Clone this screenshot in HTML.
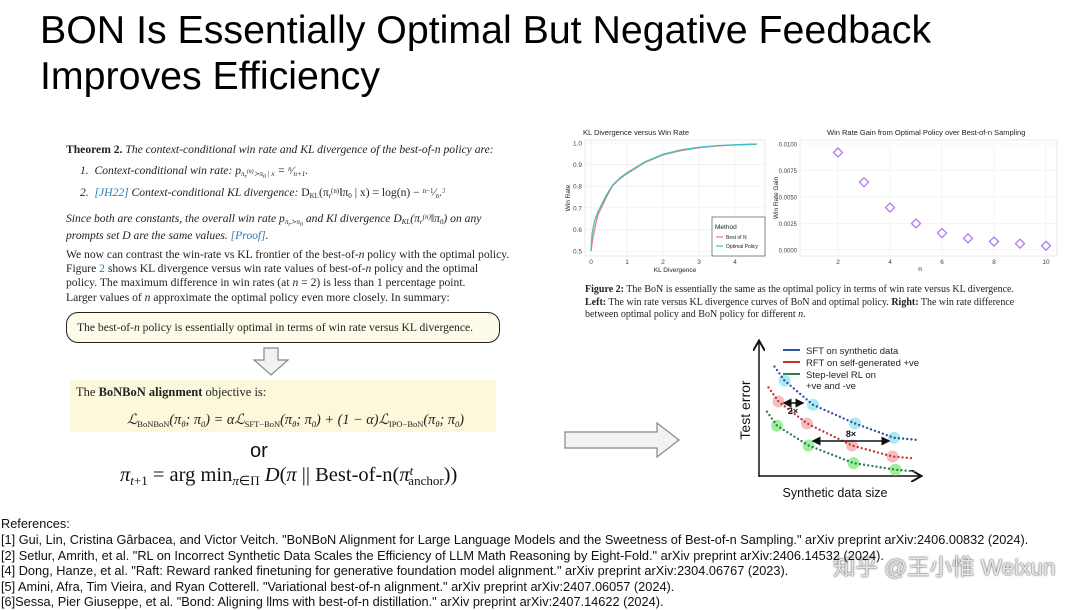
<!DOCTYPE html>
<html><head><meta charset="utf-8">
<style>
body{margin:0;width:1080px;height:610px;background:#fff;position:relative;overflow:hidden;font-family:"Liberation Sans",sans-serif;}
.a{position:absolute;white-space:nowrap;}
.s{font-family:"Liberation Serif",serif;color:#222;}
.i{font-style:italic;}
.ref{font-size:12.75px;color:#111;left:1px;}
.lk{color:#2a7ab0;}
sub,sup{vertical-align:baseline;position:relative;line-height:0;}
sub{top:0.3em;} sup{top:-0.45em;}
</style></head><body>
<div class="a" style="left:40px;top:7px;font-size:39.3px;line-height:46px;color:#000;">BON Is Essentially Optimal But Negative Feedback<br>Improves Efficiency</div>

<div>
<div class="a s" style="left:66px;top:143px;font-size:11.6px;"><b>Theorem 2.</b> <span class="i">The context-conditional win rate and KL divergence of the best-of-n policy are:</span></div>
<div class="a s i" style="left:80px;top:164px;font-size:11.6px;">1.&nbsp; Context-conditional win rate: p<sub style="font-size:7px">π<sub>r</sub><sup>(n)</sup>≻π<sub>0</sub> | x</sub> = <sup style="font-size:7px">n</sup>⁄<sub style="font-size:7px">n+1</sub>.</div>
<div class="a s i" style="left:80px;top:186px;font-size:11.6px;">2.&nbsp; <span class="lk">[JH22]</span> Context-conditional KL divergence: <span style="font-style:normal">D<sub style="font-size:7px">KL</sub>(π<sub style="font-size:7px">r</sub><sup style="font-size:7px">(n)</sup>‖π<sub style="font-size:7px">0</sub> | x) = log(n) − <sup style="font-size:7px">n−1</sup>⁄<sub style="font-size:7px">n</sub>.</span><sup class="lk" style="font-size:7px">3</sup></div>
<div class="a s i" style="left:66px;top:210px;font-size:11.6px;line-height:17px;">Since both are constants, the overall win rate p<sub style="font-size:7px">π<sub>r</sub>≻π<sub>0</sub></sub> and Kl divergence D<sub style="font-size:7px">KL</sub>(π<sub style="font-size:7px">r</sub><sup style="font-size:7px">(n)</sup>‖π<sub style="font-size:7px">0</sub>) on any<br>prompts set D are the same values. <span class="lk">[Proof]</span>.</div>
<div class="a s" style="left:66px;top:248px;font-size:11.6px;line-height:14.2px;">We now can contrast the win-rate vs KL frontier of the best-of-<i>n</i> policy with the optimal policy.<br>Figure <span class="lk">2</span> shows KL divergence versus win rate values of best-of-<i>n</i> policy and the optimal<br>policy. The maximum difference in win rates (at <i>n</i> = 2) is less than 1 percentage point.<br>Larger values of <i>n</i> approximate the optimal policy even more closely. In summary:</div>
<div class="a s" style="left:66px;top:312px;width:432px;height:29px;border:1.5px solid #222;border-radius:12px;background:#fffbea;font-size:11.6px;line-height:29px;text-indent:10px;">The best-of-<i>n</i> policy is essentially optimal in terms of win rate versus KL divergence.</div>
</div>

<svg class="a" style="left:250px;top:346px" width="44" height="32"><path d="M14 2H28V14H38L21 29L4 14H14Z" fill="#f2f2f2" stroke="#888" stroke-width="1.2"/></svg>

<div class="a" style="left:70px;top:380px;width:426px;height:52px;background:#fcf8dc;"></div>
<div class="a s" style="left:76px;top:385px;font-size:12.5px;">The <b>BoNBoN alignment</b> objective is:</div>
<div class="a s i" style="left:127px;top:412px;font-size:14.3px;">ℒ<sub style="font-size:8.5px;font-style:normal">BoNBoN</sub>(π<sub style="font-size:8.5px">θ</sub>; π<sub style="font-size:8.5px">0</sub>) = αℒ<sub style="font-size:8.5px;font-style:normal">SFT−BoN</sub>(π<sub style="font-size:8.5px">θ</sub>; π<sub style="font-size:8.5px">0</sub>) + (1 − α)ℒ<sub style="font-size:8.5px;font-style:normal">IPO−BoN</sub>(π<sub style="font-size:8.5px">θ</sub>; π<sub style="font-size:8.5px">0</sub>)</div>
<div class="a" style="left:250px;top:440px;font-size:20px;color:#111;">or</div>
<div class="a s" style="left:120px;top:464px;font-size:20.5px;color:#111;"><i>π</i><sub style="font-size:13px"><i>t</i>+1</sub> = arg min<sub style="font-size:13px"><i>π</i>∈Π</sub> <i>D</i>(<i>π</i> || Best-of-n(<i>π</i><sup style="font-size:13px"><i>t</i></sup><sub style="font-size:13px;margin-left:-5px">anchor</sub>))</div>

<svg class="a" style="left:562px;top:420px" width="122" height="40"><path d="M3 12H95V3L117 20L95 37V28H3Z" fill="#f2f2f2" stroke="#888" stroke-width="1.2"/></svg>

<svg id="c1" class="a" style="left:560px;top:120px" width="215" height="160"></svg>
<svg id="c2" class="a" style="left:770px;top:120px" width="300" height="160"></svg>

<div class="a s" style="left:585px;top:284px;font-size:10px;line-height:12.7px;color:#222;"><b>Figure 2:</b> The BoN is essentially the same as the optimal policy in terms of win rate versus KL divergence.<br><b>Left:</b> The win rate versus KL divergence curves of BoN and optimal policy. <b>Right:</b> The win rate difference<br>between optimal policy and BoN policy for different <i>n</i>.</div>

<svg id="c3" class="a" style="left:700px;top:330px" width="240" height="175">
<defs><marker id="ah" markerWidth="8" markerHeight="8" refX="6" refY="4" orient="auto"><path d="M0 0L7 4L0 8" fill="none" stroke="#111" stroke-width="1.3"/></marker>
<marker id="ab" markerWidth="6" markerHeight="6" refX="5" refY="3" orient="auto"><path d="M0 0L6 3L0 6Z" fill="#111"/></marker>
<marker id="ab2" markerWidth="6" markerHeight="6" refX="1" refY="3" orient="auto"><path d="M6 0L0 3L6 6Z" fill="#111"/></marker></defs>
<line x1="59" y1="147" x2="59" y2="12" stroke="#111" stroke-width="1.5" marker-end="url(#ah)"/>
<line x1="59" y1="146" x2="220" y2="146" stroke="#111" stroke-width="1.5" marker-end="url(#ah)"/>
<text x="50" y="80" transform="rotate(-90 50 80)" text-anchor="middle" font-size="14" fill="#111">Test error</text>
<text x="135" y="167" text-anchor="middle" font-size="12.5" fill="#111">Synthetic data size</text>
<line x1="83" y1="20" x2="100" y2="20" stroke="#3050a0" stroke-width="2"/><text x="106" y="24" font-size="9.5" fill="#222">SFT on synthetic data</text>
<line x1="83" y1="32" x2="100" y2="32" stroke="#d03030" stroke-width="2"/><text x="106" y="36" font-size="9.5" fill="#222">RFT on self-generated +ve</text>
<line x1="83" y1="44" x2="100" y2="44" stroke="#2a8050" stroke-width="2"/><text x="106" y="48" font-size="9.5" fill="#222">Step-level RL on</text><text x="106" y="59" font-size="9.5" fill="#222">+ve and -ve</text>
</svg>

<div class="a" style="left:833px;top:550px;font-size:22.5px;color:rgba(255,255,255,0.85);text-shadow:0 0 2px #666,0 0 1px #444;font-family:'Liberation Sans','Noto Sans CJK SC',sans-serif;">知乎 @王小惟 Weixun</div>

<div>
<div class="a ref" style="top:516px;">References:</div>
<div class="a ref" style="top:532px;">[1] Gui, Lin, Cristina Gârbacea, and Victor Veitch. "BoNBoN Alignment for Large Language Models and the Sweetness of Best-of-n Sampling." arXiv preprint arXiv:2406.00832 (2024).</div>
<div class="a ref" style="top:548px;">[2] Setlur, Amrith, et al. "RL on Incorrect Synthetic Data Scales the Efficiency of LLM Math Reasoning by Eight-Fold." arXiv preprint arXiv:2406.14532 (2024).</div>
<div class="a ref" style="top:563px;">[4] Dong, Hanze, et al. "Raft: Reward ranked finetuning for generative foundation model alignment." arXiv preprint arXiv:2304.06767 (2023).</div>
<div class="a ref" style="top:579px;">[5] Amini, Afra, Tim Vieira, and Ryan Cotterell. "Variational best-of-n alignment." arXiv preprint arXiv:2407.06057 (2024).</div>
<div class="a ref" style="top:594px;">[6]Sessa, Pier Giuseppe, et al. "Bond: Aligning llms with best-of-n distillation." arXiv preprint arXiv:2407.14622 (2024).</div>
</div>

<script>
const klBon=[0,0.05,0.19,0.43,0.59,0.79,0.99,1.5,2.0,2.5,3.0,3.5,4.0,4.6];
const winBon=[0.5,0.56,0.667,0.75,0.8,0.833,0.857,0.91,0.945,0.965,0.978,0.986,0.991,0.994];
const klOpt=[0,0.03,0.1,0.19,0.43,0.6,0.8,1.0,1.5,2.0,2.5,3.0,3.5,4.0,4.6];
const winOpt=[0.5,0.58,0.64,0.68,0.76,0.805,0.838,0.862,0.913,0.948,0.968,0.98,0.988,0.992,0.995];
const c1YTicks=[0.5,0.6,0.7,0.8,0.9,1.0];
const c1XTicks=[0,1,2,3,4];
const gainN=[2,3,4,5,6,7,8,9,10];
const gainVal=[0.0092,0.0064,0.0040,0.0025,0.0016,0.0011,0.0008,0.0006,0.0004];
const c2YTicks=[0,0.0025,0.005,0.0075,0.01];
const c2YLabels=["0.0000","0.0025","0.0050","0.0075","0.0100"];
const c2XTicks=[2,4,6,8,10];
const blueX=[0.15,0.34,0.62,0.88],blueY=[0.84,0.62,0.45,0.32];
const redX=[0.11,0.30,0.60,0.87],redY=[0.65,0.45,0.25,0.15];
const greenX=[0.10,0.31,0.61,0.89],greenY=[0.43,0.25,0.09,0.03];

const NS="http://www.w3.org/2000/svg";
function mk(svg,tag,at,txt){const e=document.createElementNS(NS,tag);for(const k in at)e.setAttribute(k,at[k]);if(txt!=null)e.textContent=txt;svg.appendChild(e);return e;}

(function(){
const s=document.getElementById('c1');
const x0=25,x1=205,y1=136;
const X=v=>31+v*36,Y=v=>131-(v-0.5)*216;
let t=mk(s,'text',{x:23,y:15,'font-size':7.5,fill:'#222'},'KL Divergence versus Win Rate');

mk(s,'rect',{x:x0,y:20,width:x1-x0,height:y1-20,fill:'#fff',stroke:'#ddd','stroke-width':0.6});
c1YTicks.forEach(v=>{mk(s,'line',{x1:x0,x2:x1,y1:Y(v),y2:Y(v),stroke:'#ececec','stroke-width':0.6});
 const l=mk(s,'text',{x:x0-3,y:Y(v)+2.5,'font-size':6.5,'text-anchor':'end',fill:'#444'},v.toFixed(1));
 });
c1XTicks.forEach(v=>{mk(s,'line',{x1:X(v),x2:X(v),y1:20,y2:y1,stroke:'#ececec','stroke-width':0.6});
 const l=mk(s,'text',{x:X(v),y:y1+8,'font-size':6.5,'text-anchor':'middle',fill:'#444'},v);
 });
mk(s,'text',{x:115,y:y1+16,'font-size':6.5,'text-anchor':'middle',fill:'#222'},'KL Divergence');
mk(s,'text',{x:10,y:78,'font-size':6.5,'text-anchor':'middle',fill:'#222',transform:'rotate(-90 10 78)'},'Win Rate');
let p=mk(s,'polyline',{points:klBon.map((k,i)=>X(k)+','+Y(winBon[i])).join(' '),fill:'none',stroke:'#f07c72','stroke-width':1.3});

p=mk(s,'polyline',{points:klOpt.map((k,i)=>X(k)+','+Y(winOpt[i])).join(' '),fill:'none',stroke:'#3fc1c4','stroke-width':1.3});

const g=mk(s,'g',{});
mk(g,'rect',{x:152,y:97,width:53,height:39,fill:'#fff',stroke:'#555','stroke-width':0.7});
mk(g,'text',{x:155,y:109,'font-size':6.5,fill:'#222'},'Method');
mk(g,'line',{x1:156,x2:163,y1:117,y2:117,stroke:'#f07c72','stroke-width':1.2});
mk(g,'text',{x:166,y:119,'font-size':5,fill:'#222'},'Best of N');
mk(g,'line',{x1:156,x2:163,y1:126,y2:126,stroke:'#3fc1c4','stroke-width':1.2});
mk(g,'text',{x:166,y:128,'font-size':5,fill:'#222'},'Optimal Policy');
})();

(function(){
const s=document.getElementById('c2');
const x0=30,x1=287,y0=20,y1=136;
const X=v=>68+(v-2)*26,Y=v=>130-v*10600;
let t=mk(s,'text',{x:57,y:15,'font-size':7.5,fill:'#222'},'Win Rate Gain from Optimal Policy over Best-of-n Sampling');

mk(s,'rect',{x:x0,y:y0,width:x1-x0,height:y1-y0,fill:'#fff',stroke:'#ddd','stroke-width':0.6});
c2YTicks.forEach((v,i)=>{mk(s,'line',{x1:x0,x2:x1,y1:Y(v),y2:Y(v),stroke:'#ececec','stroke-width':0.6});
 const l=mk(s,'text',{x:x0-3,y:Y(v)+2.5,'font-size':6,'text-anchor':'end',fill:'#444'},c2YLabels[i]);
 });
c2XTicks.forEach(v=>{mk(s,'line',{x1:X(v),x2:X(v),y1:y0,y2:y1,stroke:'#ececec','stroke-width':0.6});
 const l=mk(s,'text',{x:X(v),y:y1+8,'font-size':6.5,'text-anchor':'middle',fill:'#444'},v);
 });
mk(s,'text',{x:150,y:y1+15,'font-size':6.5,'text-anchor':'middle',fill:'#222'},'n');
mk(s,'text',{x:8,y:78,'font-size':6.5,'text-anchor':'middle',fill:'#222',transform:'rotate(-90 8 78)'},'Win Rate Gain');
gainN.forEach((n,i)=>{const cx=X(n),cy=Y(gainVal[i]);
 const d=mk(s,'polygon',{points:`${cx},${cy-4.5} ${cx+4.5},${cy} ${cx},${cy+4.5} ${cx-4.5},${cy}`,fill:'none',stroke:'#b27ce8','stroke-width':1.3});
 });
})();

(function(){
const s=document.getElementById('c3');
const X=v=>62+v*150,Y=v=>143-v*110;
function curve(xs,ys,col,halo,name){
 const pts=xs.map((x,i)=>[X(x),Y(ys[i])]);
 let d='M'+(pts[0][0]-10)+','+(pts[0][1]-14);
 for(let i=0;i<pts.length;i++)d+=' L'+pts[i][0]+','+pts[i][1];
 d+=' L'+(pts[3][0]+22)+','+(pts[3][1]+2);
 pts.forEach(q=>{const c=mk(s,'circle',{cx:q[0],cy:q[1],r:6,fill:halo,opacity:0.75});
  });
 const p=mk(s,'path',{d:d,fill:'none',stroke:col,'stroke-width':2.4,'stroke-dasharray':'0 4.2','stroke-linecap':'round'});
 
}
curve(blueX,blueY,'#3050a0','#8fe3f2','sft-curve');
curve(redX,redY,'#d03030','#f2a8a8','rft-curve');
curve(greenX,greenY,'#2a8050','#7ee87e','rl-curve');
mk(s,'line',{x1:84,x2:103,y1:73,y2:73,stroke:'#111','stroke-width':1.5,'marker-end':'url(#ab)','marker-start':'url(#ab2)'});
mk(s,'text',{x:93,y:84,'font-size':9,'text-anchor':'middle',fill:'#111','font-weight':'bold'},'2×');
mk(s,'line',{x1:113,x2:189,y1:111,y2:111,stroke:'#111','stroke-width':1.5,'marker-end':'url(#ab)','marker-start':'url(#ab2)'});
mk(s,'text',{x:151,y:107,'font-size':9,'text-anchor':'middle',fill:'#111','font-weight':'bold'},'8×');
})();
</script>
</body></html>
